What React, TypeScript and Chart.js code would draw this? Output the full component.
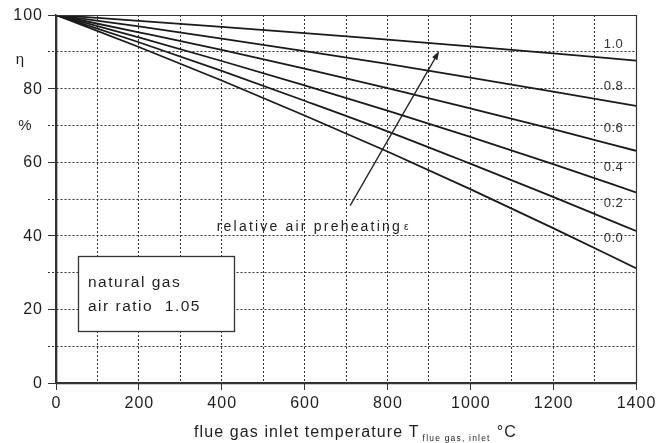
import React, { useEffect, useRef } from "react";
import { Chart, registerables } from "chart.js";

Chart.register(...registerables);

// ---- data ----
const temperatures = [0, 200, 400, 600, 800, 1000, 1200, 1400];
const preheatLabels = ["1.0", "0.8", "0.6", "0.4", "0.2", "0.0"];
const eta10 = [100, 98.4, 96.8, 95.1, 93.3, 91.5, 89.6, 87.6];
const eta08 = [100, 96.9, 93.6, 90.2, 86.7, 83.0, 79.2, 75.3];
const eta06 = [100, 95.3, 90.5, 85.4, 80.1, 74.6, 69.0, 63.1];
const eta04 = [100, 93.9, 87.5, 80.9, 74.0, 66.9, 59.5, 51.8];
const eta02 = [100, 92.6, 84.8, 76.7, 68.4, 59.6, 50.6, 41.3];
const eta00 = [100, 91.3, 82.2, 72.7, 62.9, 52.7, 42.1, 31.2];
const seriesValues = [eta10, eta08, eta06, eta04, eta02, eta00];

const xTickValues = [0, 200, 400, 600, 800, 1000, 1200, 1400];
const yTickValues = [0, 20, 40, 60, 80, 100];
const yUnitLabels = [
  { value: 90, text: "η" },
  { value: 70, text: "%" },
];

const xTitle = "flue gas inlet temperature T";
const xTitleSub = "flue gas, inlet";
const xTitleUnit = "°C";
const boxLines = ["natural gas", "air ratio  1.05"];
const arrowText = "relative air preheating";
const arrowSymbol = "ε";
// arrow from / to in data units (temperature, efficiency)
const arrowFrom = [710, 48.2];
const arrowTo = [925, 90.2];
// annotation box corners in data units
const boxFrom = [54, 34.5];
const boxTo = [430, 14.1];
const arrowTextAt = [388, 41.3];
const curveLabelAtT = 1320;

const FONT = '"Liberation Sans", Arial, Helvetica, sans-serif';
const TEXT = "#1f1f1f";

function setFont(ctx: CanvasRenderingContext2D, size: number, spacing: number) {
  ctx.font = `${size}px ${FONT}`;
  (ctx as any).letterSpacing = `${spacing}px`;
}

function drawText(
  ctx: CanvasRenderingContext2D,
  s: string,
  x: number,
  y: number,
  size: number,
  spacing: number,
  align: CanvasTextAlign = "left",
  baseline: CanvasTextBaseline = "alphabetic",
  color: string = TEXT
) {
  ctx.save();
  setFont(ctx, size, spacing);
  ctx.fillStyle = color;
  ctx.textAlign = align;
  ctx.textBaseline = baseline;
  let dx = 0;
  if (align === "right") dx = spacing;
  else if (align === "center") dx = spacing / 2;
  ctx.fillText(s, x + dx, y);
  ctx.restore();
}

function measure(ctx: CanvasRenderingContext2D, s: string, size: number, spacing: number) {
  ctx.save();
  setFont(ctx, size, spacing);
  const w = ctx.measureText(s).width;
  ctx.restore();
  return w;
}

function interp(values: number[], t: number) {
  for (let i = 0; i < temperatures.length - 1; i++) {
    const a = temperatures[i];
    const b = temperatures[i + 1];
    if (t >= a && t <= b) {
      return values[i] + ((values[i + 1] - values[i]) * (t - a)) / (b - a);
    }
  }
  return values[values.length - 1];
}

const annotPlugin = {
  id: "annot",
  beforeDatasetsDraw(chart: any) {
    const { ctx, scales } = chart;
    const sx = (v: number) => scales.x.getPixelForValue(v);
    const sy = (v: number) => scales.y.getPixelForValue(v);
    const x0 = Math.round(sx(boxFrom[0])) + 0.5;
    const y0 = Math.round(sy(boxFrom[1])) + 0.5;
    const x1 = Math.round(sx(boxTo[0])) + 0.5;
    const y1 = Math.round(sy(boxTo[1])) + 0.5;
    ctx.save();
    ctx.fillStyle = "#ffffff";
    ctx.fillRect(x0, y0, x1 - x0, y1 - y0);
    ctx.strokeStyle = "#333";
    ctx.lineWidth = 1.3;
    ctx.strokeRect(x0, y0, x1 - x0, y1 - y0);
    ctx.restore();
    drawText(ctx, boxLines[0], x0 + 9.5, y0 + 30.5, 15.5, 1.5);
    drawText(ctx, boxLines[1], x0 + 9.5, y0 + 54.5, 15.5, 1.5);
  },
  afterDatasetsDraw(chart: any) {
    const { ctx, scales, chartArea } = chart;
    const sx = (v: number) => scales.x.getPixelForValue(v);
    const sy = (v: number) => scales.y.getPixelForValue(v);

    // frame
    const L = Math.round(chartArea.left) + 0.5;
    const T = Math.round(chartArea.top) + 0.5;
    const R = Math.round(chartArea.right) + 0.5;
    const B = Math.round(chartArea.bottom) + 0.5;
    ctx.save();
    ctx.strokeStyle = "#333";
    ctx.lineWidth = 1.2;
    ctx.beginPath();
    ctx.moveTo(L, T);
    ctx.lineTo(R, T);
    ctx.lineTo(R, B);
    ctx.stroke();
    ctx.lineWidth = 1.7;
    ctx.beginPath();
    ctx.moveTo(L, T);
    ctx.lineTo(L, B);
    ctx.lineTo(R, B);
    ctx.stroke();
    ctx.restore();

    // arrow
    const ax0 = sx(arrowFrom[0]);
    const ay0 = sy(arrowFrom[1]);
    const ax1 = sx(arrowTo[0]);
    const ay1 = sy(arrowTo[1]);
    const ang = Math.atan2(ay1 - ay0, ax1 - ax0);
    const hl = 9;
    const hw = 3;
    ctx.save();
    ctx.strokeStyle = "#222";
    ctx.fillStyle = "#222";
    ctx.lineWidth = 1.3;
    ctx.beginPath();
    ctx.moveTo(ax0, ay0);
    ctx.lineTo(ax1 - Math.cos(ang) * hl * 0.8, ay1 - Math.sin(ang) * hl * 0.8);
    ctx.stroke();
    ctx.beginPath();
    ctx.moveTo(ax1, ay1);
    const bx = ax1 - Math.cos(ang) * hl;
    const by = ay1 - Math.sin(ang) * hl;
    ctx.lineTo(bx + Math.sin(ang) * hw, by - Math.cos(ang) * hw);
    ctx.lineTo(bx - Math.sin(ang) * hw, by + Math.cos(ang) * hw);
    ctx.closePath();
    ctx.fill();
    ctx.restore();

    // arrow text
    const tx = sx(arrowTextAt[0]);
    const ty = sy(arrowTextAt[1]);
    drawText(ctx, arrowText, tx, ty, 14, 2.2);
    const w = measure(ctx, arrowText, 14, 2.2);
    drawText(ctx, arrowSymbol, tx + w + 2, ty - 1.5, 10, 0);

    // curve labels
    seriesValues.forEach((vals, i) => {
      const v = interp(vals, curveLabelAtT);
      drawText(ctx, preheatLabels[i], sx(curveLabelAtT) + 1, sy(v) - 13.5, 13, 0.4, "left", "middle", "#333");
    });

    // tick labels
    xTickValues.forEach((v) => {
      drawText(ctx, String(v), sx(v), chartArea.bottom + 20.5, 16, 1.0, "center", "middle");
    });
    yTickValues.forEach((v) => {
      drawText(ctx, String(v), 42, sy(v) + 0.5, 16, 1.0, "right", "middle");
    });
    drawText(ctx, yUnitLabels[0].text, 20, sy(yUnitLabels[0].value) + 12, 15, 0, "center");
    drawText(ctx, yUnitLabels[1].text, 25, sy(yUnitLabels[1].value) + 0.5, 15, 0, "center", "middle");

    // x title
    const titleX = 194;
    const titleY = 436.5;
    drawText(ctx, xTitle, titleX, titleY, 16, 1.1);
    const tw = measure(ctx, xTitle, 16, 1.1);
    const subX = titleX + tw + 3;
    drawText(ctx, xTitleSub, subX, titleY + 4.5, 8.5, 1.2);
    const sw = measure(ctx, xTitleSub, 8.5, 1.2);
    drawText(ctx, xTitleUnit, subX + sw + 6, titleY, 16, 1.1);
  },
};

export default function App() {
  const canvasRef = useRef<HTMLCanvasElement | null>(null);

  useEffect(() => {
    if (!canvasRef.current) return;
    const datasets = seriesValues.map((vals, i) => ({
      label: preheatLabels[i],
      data: temperatures.map((t, j) => ({ x: t, y: vals[j] })),
      borderColor: "#1a1a1a",
      borderWidth: 1.8,
      pointRadius: 0,
      cubicInterpolationMode: "monotone" as const,
      fill: false,
    }));
    const chart = new Chart(canvasRef.current, {
      type: "line",
      data: { datasets },
      plugins: [annotPlugin],
      options: {
        animation: false,
        responsive: false,
        maintainAspectRatio: false,
        layout: { padding: { top: 15, right: 20, left: 0, bottom: 0 } },
        plugins: {
          legend: { display: false },
          tooltip: { enabled: false },
        },
        scales: {
          x: {
            type: "linear",
            min: 0,
            max: 1400,
            afterFit: (scale: any) => {
              scale.height = 60;
            },
            ticks: { stepSize: 100, display: false },
            grid: {
              color: "#333",
              lineWidth: 1,
              tickLength: 7,
              tickBorderDash: [],
              tickColor: (c: any) =>
                c.tick && c.tick.value % 200 === 0 ? "#333" : "rgba(0,0,0,0)",
            },
            border: { display: true, color: "#333", width: 1.5, dash: [2, 2] },
          },
          y: {
            type: "linear",
            min: 0,
            max: 100,
            afterFit: (scale: any) => {
              scale.width = 56;
            },
            ticks: { stepSize: 10, display: false },
            grid: {
              color: "#333",
              lineWidth: 1,
              tickLength: 8,
              tickColor: "#333",
              tickBorderDash: (c: any) =>
                c.tick && c.tick.value % 20 === 0 ? [] : [2, 2],
            },
            border: { display: true, color: "#333", width: 1.5, dash: [2, 2] },
          },
        },
      } as any,
    });
    return () => chart.destroy();
  }, []);

  return (
    <div style={{ position: "fixed", left: 0, top: 0, width: 656, height: 443, background: "#fff" }}>
      <canvas ref={canvasRef} width={656} height={443} style={{ display: "block", width: 656, height: 443 }} />
    </div>
  );
}
